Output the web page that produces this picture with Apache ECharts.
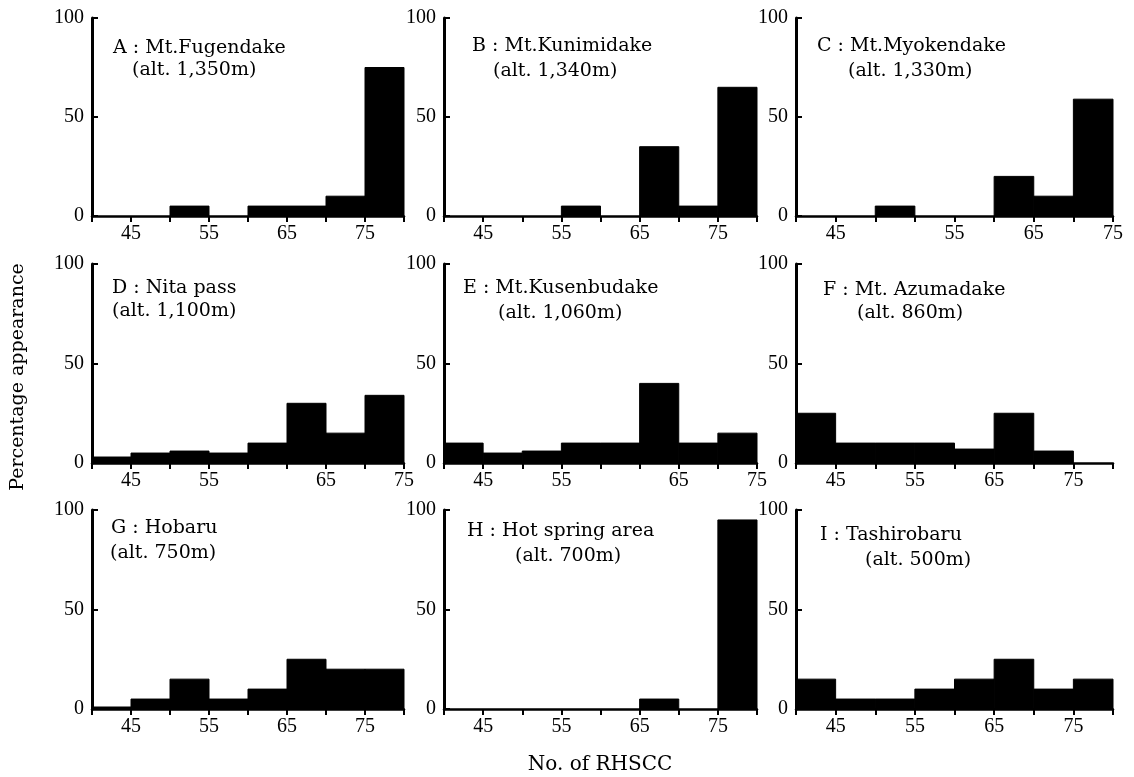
<!DOCTYPE html>
<html>
<head>
<meta charset="utf-8">
<script src="https://cdn.jsdelivr.net/npm/echarts@6/dist/echarts.min.js"></script>
<style>
html,body{margin:0;padding:0;background:#fff;}
#chart{width:1134px;height:777px;}
</style>
</head>
<body>
<div id="chart"></div>
<script>
// ---- data ----
const binStarts = [40, 45, 50, 55, 60, 65, 70, 75];
const binWidth = 5;
const panelTitles = ['A : Mt.Fugendake', 'B : Mt.Kunimidake', 'C : Mt.Myokendake',
                     'D : Nita pass', 'E : Mt.Kusenbudake', 'F : Mt. Azumadake',
                     'G : Hobaru', 'H : Hot spring area', 'I : Tashirobaru'];
const panelAlts = ['(alt. 1,350m)', '(alt. 1,340m)', '(alt. 1,330m)',
                   '(alt. 1,100m)', '(alt. 1,060m)', '(alt. 860m)',
                   '(alt. 750m)', '(alt. 700m)', '(alt. 500m)'];
const valuesA = [0, 0, 5, 0, 5, 5, 10, 75];
const valuesB = [0, 0, 0, 5, 0, 35, 5, 65];
const valuesC = [0, 0, 5, 0, 0, 20, 10, 59];
const valuesD = [3, 5, 6, 5, 10, 30, 15, 34];
const valuesE = [10, 5, 6, 10, 10, 40, 10, 15];
const valuesF = [25, 10, 10, 10, 7, 25, 6, 0];
const valuesG = [1, 5, 15, 5, 10, 25, 20, 20];
const valuesH = [0, 0, 0, 0, 0, 5, 0, 95];
const valuesI = [15, 5, 5, 10, 15, 25, 10, 15];
// tick labels at tick values 40,45,...,80 (as printed in the original figure)
const tickLabelsStd = ['', '45', '', '55', '', '65', '', '75', ''];
const tickLabelsC   = ['', '45', '', '', '55', '', '65', '', '75'];
const tickLabelsDE  = ['', '45', '', '55', '', '', '65', '', '75'];
const yTicks = [0, 50, 100];
const yAxisTitle = 'Percentage appearance';
const xAxisTitle = 'No. of RHSCC';

const allValues = [valuesA, valuesB, valuesC, valuesD, valuesE, valuesF, valuesG, valuesH, valuesI];
const allTickLabels = [tickLabelsStd, tickLabelsStd, tickLabelsC, tickLabelsDE, tickLabelsDE,
                       tickLabelsStd, tickLabelsStd, tickLabelsStd, tickLabelsStd];

// ---- layout ----
const colLeft = [92, 444, 796];
const colWidth = [312, 313, 317];
const rowTop = [18, 264, 510];
const rowHeight = [198, 199, 199];
const title1Pos = [[113, 50], [472, 48], [817, 48], [112, 290], [463, 290], [823, 292], [111, 530], [467, 533], [820, 537]];
const title2Pos = [[132, 72], [493, 73], [848, 73], [112, 313], [498, 315], [857, 315], [110, 555], [515, 558], [865, 562]];

const serif = '"Liberation Serif", "Times New Roman", serif';
const wideSerif = '"DejaVu Serif", serif';

const grids = [], xAxes = [], yAxes = [], series = [], titles = [];
for (let i = 0; i < 9; i++) {
  const r = Math.floor(i / 3), c = i % 3;
  grids.push({left: colLeft[c], top: rowTop[r], width: colWidth[c], height: rowHeight[r], containLabel: false});
  const tl = allTickLabels[i];
  xAxes.push({
    type: 'value', gridIndex: i, min: 40, max: 80, interval: 5,
    axisLine: {show: true, onZero: false, lineStyle: {color: '#000', width: 2.5}},
    axisTick: {show: true, inside: false, length: 6, lineStyle: {color: '#000', width: 2}},
    splitLine: {show: false},
    axisLabel: {
      color: '#000', fontFamily: serif, fontSize: 20, margin: 8,
      showMinLabel: true, showMaxLabel: true,
      formatter: (v) => { const k = Math.round((v - 40) / 5); return tl[k] || ''; }
    }
  });
  yAxes.push({
    type: 'value', gridIndex: i, min: 0, max: 100, interval: 50,
    axisLine: {show: true, lineStyle: {color: '#000', width: 3}},
    axisTick: {show: true, inside: true, length: 6, lineStyle: {color: '#000', width: 2}},
    splitLine: {show: false},
    axisLabel: {color: '#000', fontFamily: serif, fontSize: 20, margin: 8,
      formatter: (v) => yTicks.indexOf(v) >= 0 ? String(v) : ''}
  });
  const vals = allValues[i];
  series.push({
    type: 'custom', xAxisIndex: i, yAxisIndex: i,
    data: binStarts.map((s, k) => [s, s + binWidth, vals[k]]),
    encode: {x: [0, 1], y: 2},
    renderItem: function (params, api) {
      const v = api.value(2);
      if (!v) return null;
      const p0 = api.coord([api.value(0), v]);
      const p1 = api.coord([api.value(1), 0]);
      return {type: 'rect', shape: {x: p0[0], y: p0[1], width: p1[0] - p0[0], height: p1[1] - p0[1]},
              style: {fill: '#000', stroke: '#000', lineWidth: 1}};
    }
  });
  titles.push({text: panelTitles[i], left: title1Pos[i][0], top: title1Pos[i][1] - 11, padding: 0,
    textStyle: {fontFamily: wideSerif, fontSize: 19, fontWeight: 'normal', color: '#000'}});
  titles.push({text: panelAlts[i], left: title2Pos[i][0], top: title2Pos[i][1] - 11, padding: 0,
    textStyle: {fontFamily: wideSerif, fontSize: 19, fontWeight: 'normal', color: '#000'}});
}

const chart = echarts.init(document.getElementById('chart'), null, {renderer: 'canvas'});
chart.setOption({
  backgroundColor: '#fff',
  animation: false,
  title: titles,
  grid: grids,
  xAxis: xAxes,
  yAxis: yAxes,
  series: series,
  graphic: [
    {type: 'text', x: 18, y: 377, rotation: Math.PI / 2,
     style: {text: yAxisTitle, font: '19px "DejaVu Serif", serif', fill: '#000', align: 'center', verticalAlign: 'middle'}},
    {type: 'text', x: 600, y: 765,
     style: {text: xAxisTitle, font: '20px "DejaVu Serif", serif', fill: '#000', align: 'center', verticalAlign: 'middle'}}
  ]
});
</script>
</body>
</html>
